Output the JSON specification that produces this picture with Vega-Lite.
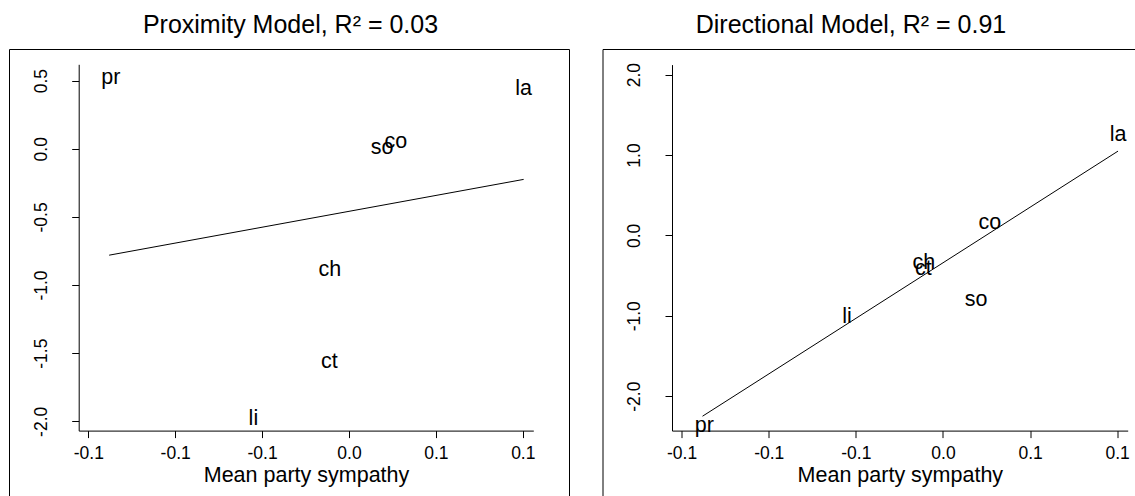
{
  "$schema": "https://vega.github.io/schema/vega-lite/v6.json",
  "background": "white",
  "padding": {"left": 8, "top": 12, "right": 0, "bottom": 0},
  "spacing": 33.5,
  "bounds": "flush",
  "datasets": {
    "prox": [
      {"party": "pr", "x": -0.137, "y": 0.517},
      {"party": "la", "x": 0.1005, "y": 0.436},
      {"party": "so", "x": 0.019, "y": 0.003},
      {"party": "co", "x": 0.027, "y": 0.047},
      {"party": "ch", "x": -0.011, "y": -0.892},
      {"party": "ct", "x": -0.0113, "y": -1.567},
      {"party": "li", "x": -0.055, "y": -1.985}
    ],
    "prox_fit": [
      {"x": -0.138, "y": -0.781},
      {"x": 0.1005, "y": -0.225}
    ],
    "dir": [
      {"party": "pr", "x": -0.137, "y": -2.372},
      {"party": "la", "x": 0.1005, "y": 1.247},
      {"party": "so", "x": 0.019, "y": -0.805},
      {"party": "co", "x": 0.027, "y": 0.153},
      {"party": "ch", "x": -0.011, "y": -0.345},
      {"party": "ct", "x": -0.0113, "y": -0.415},
      {"party": "li", "x": -0.055, "y": -1.016}
    ],
    "dir_fit": [
      {"x": -0.138, "y": -2.249},
      {"x": 0.1005, "y": 1.048}
    ]
  },
  "hconcat": [
    {
      "width": 560,
      "height": 452,
      "title": {"text": "Proximity Model, R² = 0.03", "baseline": "alphabetic", "offset": -9.1, "dx": 1.5},
      "layer": [
        {
          "data": {"name": "prox"},
          "mark": {"type": "text", "fontSize": 21.5, "align": "center", "baseline": "middle", "color": "#000"},
          "encoding": {
            "x": {
              "field": "x", "type": "quantitative",
              "scale": {"domain": [-0.15552, 0.10605], "range": [69.7, 524.3], "nice": false, "zero": false},
              "axis": {
                "orient": "bottom", "offset": -70.4,
                "values": [-0.15, -0.1, -0.05, 0, 0.05, 0.1],
                "labelExpr": "replace(format(datum.value, '.1f'), '\u2212', '-')",
                "title": "Mean party sympathy",
                "labelBaseline": "top", "labelPadding": 7,
                "titleBaseline": "alphabetic", "titleY": 50.5
              }
            },
            "y": {
              "field": "y", "type": "quantitative",
              "scale": {"domain": [-2.0682, 0.6196], "range": [381.6, 15.3], "nice": false, "zero": false},
              "axis": {
                "orient": "left", "offset": -69.7,
                "values": [0.5, 0, -0.5, -1, -1.5, -2],
                "labelExpr": "replace(format(datum.value, '.1f'), '\u2212', '-')",
                "title": null,
                "labelAngle": -90, "labelAlign": "center", "labelBaseline": "alphabetic", "labelPadding": 25.5
              }
            },
            "text": {"field": "party", "type": "nominal"}
          }
        },
        {
          "data": {"name": "prox_fit"},
          "mark": {"type": "line", "color": "#000", "strokeWidth": 1},
          "encoding": {
            "x": {"field": "x", "type": "quantitative"},
            "y": {"field": "y", "type": "quantitative"}
          }
        }
      ]
    },
    {
      "width": 560,
      "height": 452,
      "title": {"text": "Directional Model, R² = 0.91", "baseline": "alphabetic", "offset": -9.1, "dx": -31.5},
      "layer": [
        {
          "data": {"name": "dir"},
          "mark": {"type": "text", "fontSize": 21.5, "align": "center", "baseline": "middle", "color": "#000"},
          "encoding": {
            "x": {
              "field": "x", "type": "quantitative",
              "scale": {"domain": [-0.15552, 0.10605], "range": [69.5, 525.2], "nice": false, "zero": false},
              "axis": {
                "orient": "bottom", "offset": -70.4,
                "values": [-0.15, -0.1, -0.05, 0, 0.05, 0.1],
                "labelExpr": "replace(format(datum.value, '.1f'), '\u2212', '-')",
                "title": "Mean party sympathy",
                "labelBaseline": "top", "labelPadding": 7,
                "titleBaseline": "alphabetic", "titleY": 50.5
              }
            },
            "y": {
              "field": "y", "type": "quantitative",
              "scale": {"domain": [-2.428, 2.124], "range": [381.6, 15.6], "nice": false, "zero": false},
              "axis": {
                "orient": "left", "offset": -69.5,
                "values": [2, 1, 0, -1, -2],
                "labelExpr": "replace(format(datum.value, '.1f'), '\u2212', '-')",
                "title": null,
                "labelAngle": -90, "labelAlign": "center", "labelBaseline": "alphabetic", "labelPadding": 25.5
              }
            },
            "text": {"field": "party", "type": "nominal"}
          }
        },
        {
          "data": {"name": "dir_fit"},
          "mark": {"type": "line", "color": "#000", "strokeWidth": 1},
          "encoding": {
            "x": {"field": "x", "type": "quantitative"},
            "y": {"field": "y", "type": "quantitative"}
          }
        }
      ]
    }
  ],
  "config": {
    "font": "Liberation Sans",
    "view": {"stroke": "#000", "strokeWidth": 1},
    "axis": {
      "grid": false,
      "domainColor": "#000", "domainWidth": 1,
      "tickColor": "#000", "tickWidth": 1, "tickSize": 7,
      "labelColor": "#000", "labelFont": "Liberation Sans", "labelFontSize": 17.5,
      "titleColor": "#000", "titleFont": "Liberation Sans", "titleFontSize": 21.5, "titleFontWeight": "normal",
      "labelOverlap": false, "labelFlush": false
    },
    "title": {"font": "Liberation Sans", "fontSize": 25, "fontWeight": "normal", "color": "#000", "anchor": "middle"},
    "text": {"font": "Liberation Sans"}
  }
}
